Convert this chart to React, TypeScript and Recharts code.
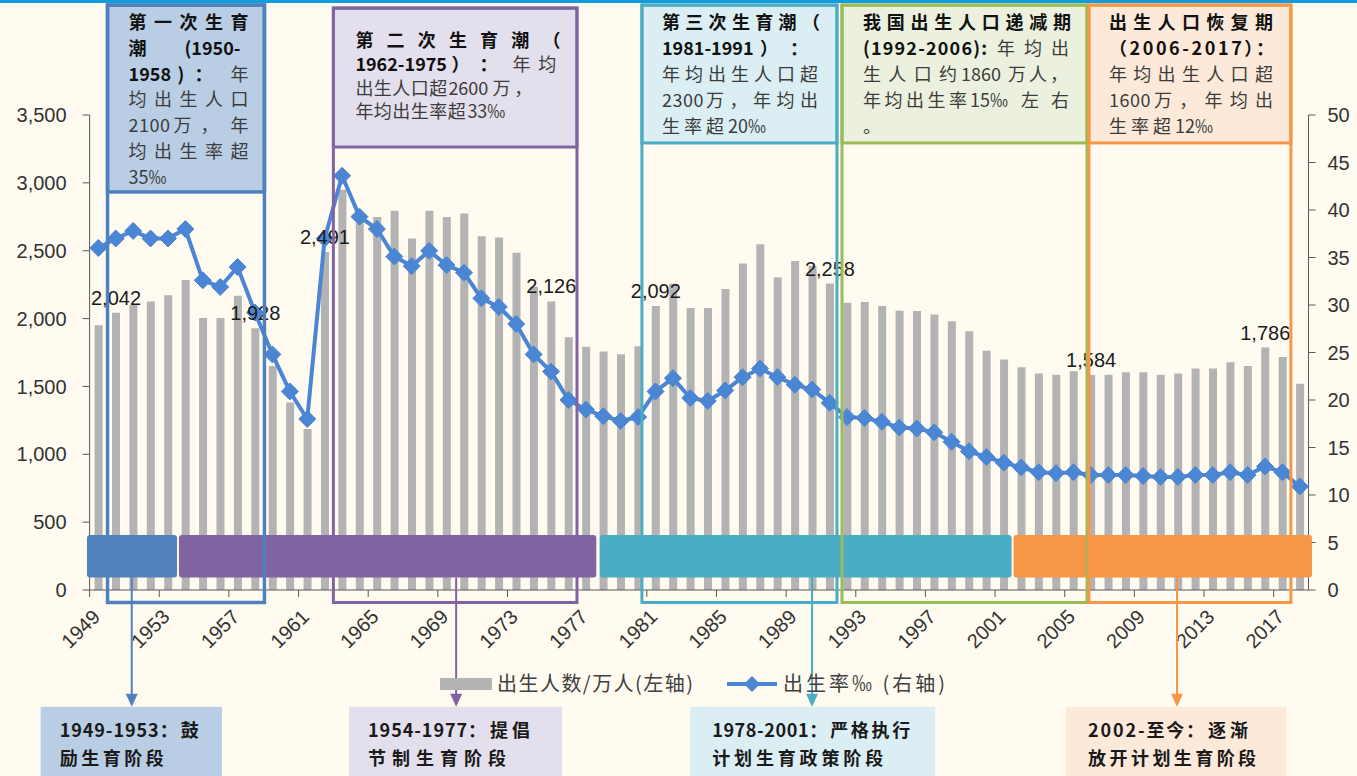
import React from 'react';
import {
  ComposedChart,
  Bar,
  Line,
  XAxis,
  YAxis,
  ReferenceArea,
  ReferenceLine,
  LabelList,
  Legend,
} from 'recharts';

// ---------------- data ----------------
const years = [
  '1949', '1950', '1951', '1952', '1953', '1954', '1955', '1956', '1957', '1958',
  '1959', '1960', '1961', '1962', '1963', '1964', '1965', '1966', '1967', '1968',
  '1969', '1970', '1971', '1972', '1973', '1974', '1975', '1976', '1977', '1978',
  '1979', '1980', '1981', '1982', '1983', '1984', '1985', '1986', '1987', '1988',
  '1989', '1990', '1991', '1992', '1993', '1994', '1995', '1996', '1997', '1998',
  '1999', '2000', '2001', '2002', '2003', '2004', '2005', '2006', '2007', '2008',
  '2009', '2010', '2011', '2012', '2013', '2014', '2015', '2016', '2017', '2018',
];

// 出生人数/万人 (left axis)
const births = [
  1950, 2042, 2100, 2125, 2172, 2285, 2004, 2004, 2169, 1928,
  1650, 1381, 1186, 2491, 2950, 2730, 2748, 2795, 2590, 2795,
  2748, 2774, 2606, 2598, 2485, 2235, 2126, 1862, 1793, 1757,
  1738, 1796, 2092, 2256, 2077, 2077, 2217, 2406, 2548, 2304,
  2425, 2390, 2258, 2117, 2123, 2093, 2058, 2056, 2030, 1980,
  1906, 1762, 1699, 1641, 1596, 1586, 1612, 1584, 1586, 1604,
  1604, 1586, 1596, 1633, 1633, 1678, 1651, 1786, 1717, 1520,
];

// 出生率‰ (right axis)
const birthRate = [
  36.0, 37.0, 37.8, 37.0, 37.0, 38.0, 32.6, 31.9, 34.0, 29.2,
  24.8, 20.9, 18.0, 37.0, 43.6, 39.3, 38.0, 35.1, 34.1, 35.7,
  34.2, 33.4, 30.7, 29.8, 28.0, 24.8, 23.0, 20.0, 19.0, 18.3,
  17.8, 18.2, 20.9, 22.3, 20.2, 19.9, 21.0, 22.4, 23.3, 22.4,
  21.6, 21.1, 19.7, 18.2, 18.1, 17.7, 17.1, 17.0, 16.6, 15.6,
  14.6, 14.0, 13.4, 12.9, 12.4, 12.3, 12.4, 12.1, 12.1, 12.1,
  12.0, 11.9, 11.9, 12.1, 12.1, 12.4, 12.1, 13.0, 12.4, 10.9,
];

const labeledYears = ['1950', '1958', '1962', '1975', '1981', '1991', '2006', '2016'];
const leftTicks = [0, 500, 1000, 1500, 2000, 2500, 3000, 3500];
const rightTicks = [0, 5, 10, 15, 20, 25, 30, 35, 40, 45, 50];

const data = years.map((year, i) => ({
  year,
  idx: i + 0.5,
  births: births[i],
  rate: birthRate[i],
}));

// ---------------- styling / annotations ----------------
const CJK = '"Noto Sans CJK SC", "Noto Sans", sans-serif';
const NUM = '"Liberation Sans", Arial, sans-serif';
const BAR_COLOR = '#b3b3b3';
const LINE_COLOR = '#4a86d4';
const AXIS_COLOR = '#595959';

// a text segment: t = text, b = bold, at = x offset within the line, w = justified width, ls = letter spacing
type Seg = { t: string; b?: boolean; at?: number; w?: number; ls?: number };

const eraBoxes: {
  x1: number; x2: number; top: number; head: number; bottom: number;
  stroke: string; fill: string; sw: number; dx: number; base: number; step: number;
  lines: Seg[][];
}[] = [
  {
    x1: 1.03, x2: 10.04, top: 4310, head: 2933, bottom: -92,
    stroke: '#4f81bd', fill: '#b9cde5', sw: 3.5, dx: 21, base: 24, step: 25.8,
    lines: [
      [{ t: '第一次生育', b: true, w: 120 }],
      [{ t: '潮', b: true }, { t: '(1950-', b: true, at: 56 }],
      [{ t: '1958', b: true }, { t: ')', b: true, at: 49 }, { t: '：', b: true, at: 66 }, { t: '年', at: 102 }],
      [{ t: '均出生人口', w: 120 }],
      [{ t: '2100', ls: 0.5 }, { t: '万', at: 45 }, { t: '，', at: 72 }, { t: '年', at: 102 }],
      [{ t: '均出生率超', w: 120 }],
      [{ t: '35‰' }],
    ],
  },
  {
    x1: 14.0, x2: 27.99, top: 4288, head: 3264, bottom: -92,
    stroke: '#8064a2', fill: '#e4dfec', sw: 3, dx: 22, base: 39, step: 23.8,
    lines: [
      [{ t: '第二次生育潮（', b: true, w: 205 }],
      [{ t: '1962-1975', b: true }, { t: '）', b: true, at: 96 }, { t: '：', b: true, at: 124 }, { t: '年均', at: 157, ls: 8 }],
      [{ t: '出生人口超', ls: 0.5 }, { t: '2600', at: 93 }, { t: '万，', at: 137, ls: 4 }],
      [{ t: '年均出生率超', ls: 0.5 }, { t: '33‰', at: 112 }],
    ],
  },
  {
    x1: 31.72, x2: 42.92, top: 4310, head: 3294, bottom: -92,
    stroke: '#4bacc6', fill: '#daeef3', sw: 3, dx: 20, base: 24, step: 26,
    lines: [
      [{ t: '第三次生育潮（', b: true, w: 158 }],
      [{ t: '1981-1991', b: true }, { t: '）', b: true, at: 98 }, { t: '：', b: true, at: 128 }],
      [{ t: '年均出生人口超', w: 156 }],
      [{ t: '2300', ls: 0.5 }, { t: '万，年均出', at: 44, w: 112 }],
      [{ t: '生率超', ls: 4 }, { t: '20‰', at: 66 }],
    ],
  },
  {
    x1: 43.21, x2: 57.28, top: 4310, head: 3294, bottom: -92,
    stroke: '#9bbb59', fill: '#ebf1de', sw: 3, dx: 21, base: 24, step: 26,
    lines: [
      [{ t: '我国出生人口递减期', b: true, w: 208 }],
      [{ t: '(1992-2006):', b: true, w: 124 }, { t: '年均出', at: 134, w: 72 }],
      [{ t: '生人口约', w: 94 }, { t: '1860', at: 98 }, { t: '万人，', at: 145, w: 60 }],
      [{ t: '年均出生率', w: 104 }, { t: '15‰', at: 107 }, { t: '左右', at: 158, w: 48 }],
      [{ t: '。' }],
    ],
  },
  {
    x1: 57.39, x2: 68.99, top: 4310, head: 3294, bottom: -92,
    stroke: '#f79646', fill: '#fde9d9', sw: 3, dx: 20, base: 24, step: 26,
    lines: [
      [{ t: '出生人口恢复期', b: true, w: 164 }],
      [{ t: '（2006-2017）：', b: true, w: 165 }],
      [{ t: '年均出生人口超', w: 164 }],
      [{ t: '1600', ls: 0.5 }, { t: '万，年均出', at: 45, w: 119 }],
      [{ t: '生率超', ls: 4 }, { t: '12‰', at: 66 }],
    ],
  },
];

const bands = [
  { x1: -0.15, x2: 5.02, color: '#4f81bd' },
  { x1: 5.13, x2: 29.1, color: '#8064a2' },
  { x1: 29.3, x2: 52.95, color: '#4bacc6' },
  { x1: 53.06, x2: 70.2, color: '#f79646' },
];
const BAND_LOW = 92;
const BAND_HIGH = 405;

const policyBoxes = [
  { x1: -2.81, x2: 7.6, arrow: 2.42, color: '#4f81bd', fill: '#b9cde5', dx: 19,
    lines: [[{ t: '1949-1953：', b: true, w: 118 }, { t: '鼓', b: true, at: 121 }], [{ t: '励生育阶段', b: true, w: 104 }]] },
  { x1: 14.9, x2: 27.13, arrow: 21.05, color: '#8064a2', fill: '#e4dfec', dx: 19,
    lines: [[{ t: '1954-1977：', b: true, w: 118 }, { t: '提倡', b: true, at: 122, w: 40 }], [{ t: '节制生育阶段', b: true, w: 138 }]] },
  { x1: 34.49, x2: 48.56, arrow: 41.49, color: '#4bacc6', fill: '#daeef3', dx: 22,
    lines: [[{ t: '1978-2001：', b: true, w: 115 }, { t: '严格执行', b: true, at: 118, w: 80 }], [{ t: '计划生育政策阶段', b: true, w: 171 }]] },
  { x1: 56.08, x2: 68.72, arrow: 62.45, color: '#f79646', fill: '#fde9d9', dx: 22,
    lines: [[{ t: '2002-至今：', b: true, w: 116 }, { t: '逐渐', b: true, at: 120, w: 40 }], [{ t: '放开计划生育阶段', b: true, w: 168 }]] },
];
const POLICY_TOP = -861;
const POLICY_BOTTOM = -1450;

// ---------------- renderers ----------------
const fmt = (v: number) => v.toLocaleString('en-US');

const renderSegs = (segs: Seg[], x: number, y: number, fontSize: number, key: string | number, boldColor: string, normalColor: string) =>
  segs.map((s, j) => (
    <text
      key={`${key}-${j}`}
      x={x + (s.at || 0)}
      y={y}
      fontSize={fontSize}
      fontFamily={CJK}
      fontWeight={s.b ? 700 : 400}
      fill={s.b ? boldColor : normalColor}
      style={s.ls ? { letterSpacing: `${s.ls}px` } : undefined}
      {...(s.w ? { textLength: s.w, lengthAdjust: 'spacing' } : {})}
    >
      {s.t}
    </text>
  ));

const BarValueLabel = (props: any) => {
  const { x, y, width, value, index } = props;
  if (!labeledYears.includes(years[index])) return null;
  return (
    <text
      x={Number(x) + Number(width) / 2}
      y={Number(y) - 8}
      textAnchor="middle"
      fontSize={20}
      fontFamily={NUM}
      fill="#1a1a1a"
    >
      {fmt(Number(value))}
    </text>
  );
};

const Diamond = (props: any) => {
  const { cx, cy, index } = props;
  if (cx == null || cy == null) return <g key={`d-${index}`} />;
  const r = 8.5;
  return (
    <polygon
      key={`d-${index}`}
      points={`${cx},${cy - r} ${cx + r},${cy} ${cx},${cy + r} ${cx - r},${cy}`}
      fill={LINE_COLOR}
      stroke={LINE_COLOR}
      strokeWidth={1}
    />
  );
};

const XTick = (props: any) => {
  const { x, y, payload } = props;
  const off = payload && typeof payload.offset === 'number' && payload.offset > 0 ? payload.offset : 8.71;
  const tx = x + 3;
  const ty = y + 28;
  return (
    <g>
      <line x1={x - off} y1={y} x2={x - off} y2={y + 7} stroke={AXIS_COLOR} strokeWidth={1} />
      <text
        x={tx}
        y={ty}
        transform={`rotate(-45 ${tx} ${ty})`}
        textAnchor="end"
        fontSize={20}
        fontFamily={NUM}
        fill="#333"
      >
        {payload.value}
      </text>
    </g>
  );
};

const makeHeaderShape = (cfg: (typeof eraBoxes)[number]) => (p: any) => {
  const { x, y, width, height } = p;
  return (
    <g>
      <rect x={x} y={y} width={width} height={height} fill={cfg.fill} stroke={cfg.stroke} strokeWidth={cfg.sw} />
      {cfg.lines.map((ln, i) => renderSegs(ln, x + cfg.dx, y + cfg.base + i * cfg.step, 18, i, '#111', '#3c3c3c'))}
    </g>
  );
};

const makeOutlineShape = (cfg: (typeof eraBoxes)[number]) => (p: any) => (
  <rect x={p.x} y={p.y} width={p.width} height={p.height} fill="none" stroke={cfg.stroke} strokeWidth={cfg.sw} />
);

const makeBandShape = (color: string) => (p: any) => (
  <rect x={p.x} y={p.y} width={p.width} height={p.height} rx={3} ry={3} fill={color} />
);

const makePolicyShape = (cfg: (typeof policyBoxes)[number]) => (p: any) => {
  const { x, y, width, height } = p;
  return (
    <g>
      <rect x={x} y={y} width={width} height={height} fill={cfg.fill} />
      {cfg.lines.map((ln, i) => renderSegs(ln as Seg[], x + cfg.dx, y + 30 + i * 28, 18, i, '#1a1a1a', '#1a1a1a'))}
    </g>
  );
};

const makeArrowShape = (color: string) => (p: any) => {
  const { x1, y1, x2, y2 } = p;
  const ah = 13;
  const aw = 6;
  return (
    <g>
      <line x1={x1} y1={y1} x2={x2} y2={y2 - ah + 1} stroke={color} strokeWidth={2} />
      <polygon points={`${x2 - aw},${y2 - ah} ${x2 + aw},${y2 - ah} ${x2},${y2}`} fill={color} />
    </g>
  );
};

const LegendContent = () => (
  <svg width={540} height={32} style={{ display: 'block' }}>
    <rect x={10} y={10} width={52} height={12} fill={BAR_COLOR} />
    <text x={67} y={23} fontSize={20} fontFamily={CJK} fill="#404040" textLength={196} lengthAdjust="spacing">
      出生人数/万人(左轴)
    </text>
    <line x1={297} y1={16} x2={347} y2={16} stroke={LINE_COLOR} strokeWidth={4} />
    <polygon points="322,8 330,16 322,24 314,16" fill={LINE_COLOR} />
    <text x={353} y={23} fontSize={20} fontFamily={CJK} fill="#404040" textLength={162} lengthAdjust="spacing">
      出生率‰ (右轴)
    </text>
  </svg>
);

export default function App() {
  return (
    <div
      style={{
        position: 'absolute',
        left: 0,
        top: 0,
        width: 1357,
        height: 776,
        background: '#fffbf0',
        overflow: 'hidden',
      }}
    >
      <div style={{ position: 'absolute', left: 0, top: 0, width: 1357, height: 3, background: '#119cdc', zIndex: 5 }} />
      <ComposedChart
        width={1357}
        height={776}
        data={data}
        margin={{ top: 115, right: 0, bottom: 126, left: 0 }}
        barGap={0}
      >
        <XAxis
          dataKey="year"
          interval={3}
          tickLine={false}
          tickSize={0}
          tickMargin={0}
          axisLine={{ stroke: AXIS_COLOR }}
          tick={<XTick />}
          height={60}
        />
        <XAxis xAxisId="pos" type="number" dataKey="idx" domain={[0, 70]} hide allowDataOverflow />
        <YAxis
          yAxisId="left"
          domain={[0, 3500]}
          ticks={leftTicks}
          width={89.6}
          tickSize={7}
          tickMargin={16}
          tickFormatter={fmt}
          axisLine={{ stroke: AXIS_COLOR }}
          tickLine={{ stroke: AXIS_COLOR }}
          tick={{ fontSize: 20, fill: '#333', fontFamily: NUM }}
          allowDataOverflow
        />
        <YAxis
          yAxisId="right"
          orientation="right"
          domain={[0, 50]}
          ticks={rightTicks}
          width={48.5}
          tickSize={7}
          tickMargin={12}
          axisLine={{ stroke: AXIS_COLOR }}
          tickLine={{ stroke: AXIS_COLOR }}
          tick={{ fontSize: 20, fill: '#333', fontFamily: NUM, textAnchor: 'start' }}
          allowDataOverflow
        />
        <Bar yAxisId="left" dataKey="births" name="出生人数/万人(左轴)" fill={BAR_COLOR} barSize={8} isAnimationActive={false}>
          <LabelList dataKey="births" content={BarValueLabel} />
        </Bar>
        <Line
          yAxisId="right"
          dataKey="rate"
          name="出生率‰ (右轴)"
          stroke={LINE_COLOR}
          strokeWidth={4}
          dot={(p: any) => <Diamond key={`dot-${p.index}`} {...p} />}
          activeDot={false}
          isAnimationActive={false}
        />

        {bands.map((b, i) => (
          <ReferenceArea
            key={`band-${i}`}
            xAxisId="pos"
            yAxisId="left"
            x1={b.x1}
            x2={b.x2}
            y1={BAND_LOW}
            y2={BAND_HIGH}
            ifOverflow="visible"
            shape={makeBandShape(b.color)}
            {...({ zIndex: 1500 } as any)}
          />
        ))}

        {eraBoxes.map((b, i) => (
          <ReferenceArea
            key={`head-${i}`}
            xAxisId="pos"
            yAxisId="left"
            x1={b.x1}
            x2={b.x2}
            y1={b.head}
            y2={b.top}
            ifOverflow="visible"
            shape={makeHeaderShape(b)}
            {...({ zIndex: 1500 } as any)}
          />
        ))}

        {eraBoxes.map((b, i) => (
          <ReferenceArea
            key={`outline-${i}`}
            xAxisId="pos"
            yAxisId="left"
            x1={b.x1}
            x2={b.x2}
            y1={b.bottom}
            y2={b.top}
            ifOverflow="visible"
            shape={makeOutlineShape(b)}
            {...({ zIndex: 2100 } as any)}
          />
        ))}

        {policyBoxes.map((b, i) => (
          <ReferenceArea
            key={`policy-${i}`}
            xAxisId="pos"
            yAxisId="left"
            x1={b.x1}
            x2={b.x2}
            y1={POLICY_BOTTOM}
            y2={POLICY_TOP}
            ifOverflow="visible"
            shape={makePolicyShape(b)}
            {...({ zIndex: 1500 } as any)}
          />
        ))}

        {policyBoxes.map((b, i) => (
          <ReferenceLine
            key={`arrow-${i}`}
            xAxisId="pos"
            yAxisId="left"
            segment={[
              { x: b.arrow, y: BAND_LOW },
              { x: b.arrow, y: POLICY_TOP },
            ]}
            ifOverflow="visible"
            shape={makeArrowShape(b.color)}
            {...({ zIndex: 2100 } as any)}
          />
        ))}

        <Legend
          content={LegendContent}
          layout="horizontal"
          verticalAlign="middle"
          align="center"
          wrapperStyle={{ position: 'absolute', top: 668, left: 430, width: 540, height: 32 }}
        />
      </ComposedChart>
    </div>
  );
}
